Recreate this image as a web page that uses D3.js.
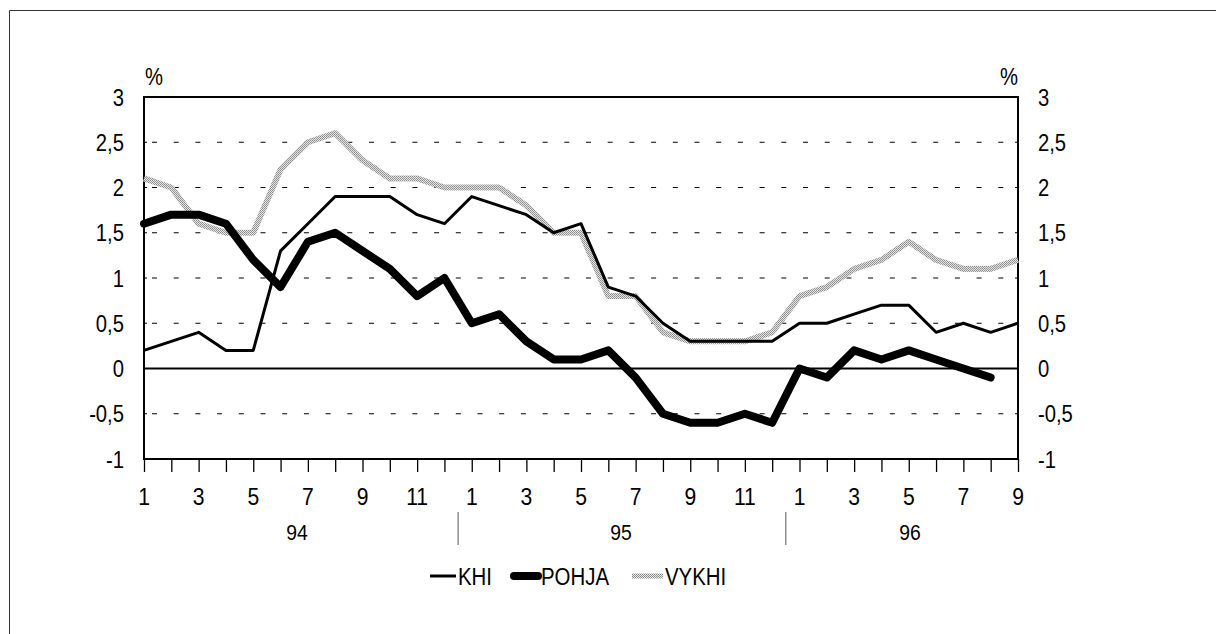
<!DOCTYPE html>
<html>
<head>
<meta charset="utf-8">
<script src="https://cdn.jsdelivr.net/npm/d3@7"></script>
<style>
  html, body { margin: 0; padding: 0; background: #fff; }
  svg { display: block; }
  text { font-family: "Liberation Sans", Arial, Helvetica, sans-serif; fill: #000; }
</style>
</head>
<body>
<svg id="chart" width="1216" height="634"></svg>
<script>
// ---- data ----
const years = ["94", "95", "96"];
const monthsPerYear = [12, 12, 9];
const months = [];
years.forEach((y, i) => { for (let m = 1; m <= monthsPerYear[i]; m++) months.push(y + "-" + m); });

const khi = [0.2, 0.3, 0.4, 0.2, 0.2, 1.3, 1.6, 1.9, 1.9, 1.9, 1.7, 1.6,
             1.9, 1.8, 1.7, 1.5, 1.6, 0.9, 0.8, 0.5, 0.3, 0.3, 0.3, 0.3,
             0.5, 0.5, 0.6, 0.7, 0.7, 0.4, 0.5, 0.4, 0.5];
const pohja = [1.6, 1.7, 1.7, 1.6, 1.2, 0.9, 1.4, 1.5, 1.3, 1.1, 0.8, 1.0,
               0.5, 0.6, 0.3, 0.1, 0.1, 0.2, -0.1, -0.5, -0.6, -0.6, -0.5, -0.6,
               0.0, -0.1, 0.2, 0.1, 0.2, 0.1, 0.0, -0.1];
const vykhi = [2.1, 2.0, 1.6, 1.5, 1.5, 2.2, 2.5, 2.6, 2.3, 2.1, 2.1, 2.0,
               2.0, 2.0, 1.8, 1.5, 1.5, 0.8, 0.8, 0.4, 0.3, 0.3, 0.3, 0.4,
               0.8, 0.9, 1.1, 1.2, 1.4, 1.2, 1.1, 1.1, 1.2];
const yTicks = [-1, -0.5, 0, 0.5, 1, 1.5, 2, 2.5, 3];
const xTickLabels = ["1", "3", "5", "7", "9", "11"];
const seriesNames = ["KHI", "POHJA", "VYKHI"];

// ---- layout ----
const svg = d3.select("#chart");
const L = 144, R = 1018, T = 97, B = 459;
const x = d3.scalePoint().domain(months).range([L, R]);
const y = d3.scaleLinear().domain([-1, 3]).range([B, T]);
const fmt = v => String(v).replace(".", ",");
const SX = 0.88;

// pattern for halftone grey
const defs = svg.append("defs");
const pat = defs.append("pattern").attr("id", "halftone").attr("patternUnits", "userSpaceOnUse")
  .attr("width", 2).attr("height", 2);
pat.append("rect").attr("width", 2).attr("height", 2).attr("fill", "#e4e4e4");
pat.append("rect").attr("width", 1).attr("height", 1).attr("fill", "#8a8a8a");
pat.append("rect").attr("x", 1).attr("y", 1).attr("width", 1).attr("height", 1).attr("fill", "#9a9a9a");

// outer frame (left + top)
svg.append("path").attr("d", "M9.5,634 V10.5 H1216").attr("fill", "none").attr("stroke", "#333").attr("stroke-width", 1);

// gridlines (dashed)
svg.append("g").selectAll("line").data(yTicks.filter(v => v !== 0 && v !== 3 && v !== -1)).join("line")
  .attr("x1", L + 8).attr("x2", R - 8)
  .attr("y1", d => y(d)).attr("y2", d => y(d))
  .attr("stroke", "#000").attr("stroke-width", 1.2).attr("stroke-dasharray", "5,16.7");

// zero line
svg.append("line").attr("x1", L).attr("x2", R).attr("y1", y(0)).attr("y2", y(0))
  .attr("stroke", "#000").attr("stroke-width", 2);

// plot frame
svg.append("rect").attr("x", L).attr("y", T).attr("width", R - L).attr("height", B - T)
  .attr("fill", "none").attr("stroke", "#000").attr("stroke-width", 2);

// x axis ticks below
const xAxis = d3.axisBottom(x).tickSize(13).tickFormat("");
const gx = svg.append("g").attr("transform", `translate(0,${B})`).call(xAxis);
gx.select(".domain").remove();
gx.selectAll(".tick line").attr("stroke", "#000").attr("stroke-width", 1.3);

// x tick labels
const labelMonths = months.filter(m => xTickLabels.includes(m.split("-")[1]) || m === "96-9");
svg.append("g").selectAll("text").data(labelMonths).join("text")
  .attr("transform", d => `translate(${x(d)},505) scale(${SX},1)`)
  .attr("text-anchor", "middle").attr("font-size", 24)
  .text(d => d.split("-")[1]);

// year labels and separators
const yearStart = [0, 12, 24], yearEnd = [11, 23, 32];
const yearCenter = [297, 621, 910];
svg.append("g").selectAll("text").data(years).join("text")
  .attr("transform", (d, i) => `translate(${yearCenter[i]},540) scale(${SX},1)`)
  .attr("text-anchor", "middle").attr("font-size", 22).text(d => d);
svg.append("g").selectAll("line").data([1, 2]).join("line")
  .attr("x1", i => (x(months[yearEnd[i - 1]]) + x(months[yearStart[i]])) / 2)
  .attr("x2", i => (x(months[yearEnd[i - 1]]) + x(months[yearStart[i]])) / 2)
  .attr("y1", 512).attr("y2", 545).attr("stroke", "#555").attr("stroke-width", 1);

// y axes labels
const gyl = svg.append("g").attr("transform", `translate(${L},0)`)
  .call(d3.axisLeft(y).tickValues(yTicks).tickSize(0).tickPadding(0).tickFormat(fmt));
gyl.select(".domain").remove();
gyl.selectAll(".tick text").attr("x", null).attr("dy", null)
  .attr("transform", `translate(-20,8) scale(${SX},1)`)
  .attr("text-anchor", "end").attr("font-size", 23).attr("font-family", "Liberation Sans, Arial, sans-serif");
const gyr = svg.append("g").attr("transform", `translate(${R},0)`)
  .call(d3.axisRight(y).tickValues(yTicks).tickSize(0).tickPadding(0).tickFormat(fmt));
gyr.select(".domain").remove();
gyr.selectAll(".tick text").attr("x", null).attr("dy", null)
  .attr("transform", `translate(20,8) scale(${SX},1)`)
  .attr("text-anchor", "start").attr("font-size", 23).attr("font-family", "Liberation Sans, Arial, sans-serif");

// small inner ticks on y axes
svg.append("g").selectAll("line").data(yTicks).join("line")
  .attr("x1", L).attr("x2", L + 3).attr("y1", d => y(d)).attr("y2", d => y(d)).attr("stroke", "#000");
svg.append("g").selectAll("line").data(yTicks).join("line")
  .attr("x1", R - 3).attr("x2", R).attr("y1", d => y(d)).attr("y2", d => y(d)).attr("stroke", "#000");

// % labels
svg.append("text").attr("transform", `translate(${L + 1},85) scale(${SX},1)`).attr("font-size", 23).text("%");
svg.append("text").attr("transform", `translate(${R},85) scale(${SX},1)`).attr("text-anchor", "end").attr("font-size", 23).text("%");

// lines
const line = d3.line().x((d, i) => x(months[i])).y(d => y(d));
svg.append("path").datum(vykhi).attr("d", line).attr("fill", "none")
  .attr("stroke", "url(#halftone)").attr("stroke-width", 6).attr("stroke-linejoin", "round");
svg.append("path").datum(khi).attr("d", line).attr("fill", "none")
  .attr("stroke", "#000").attr("stroke-width", 3).attr("stroke-linejoin", "round");
svg.append("path").datum(pohja).attr("d", line).attr("fill", "none")
  .attr("stroke", "#000").attr("stroke-width", 8).attr("stroke-linejoin", "round").attr("stroke-linecap", "round");

// legend
const legY = 576;
const leg = [
  { name: seriesNames[0], x1: 430, x2: 456, tx: 458, w: 3, stroke: "#000", cap: "butt" },
  { name: seriesNames[1], x1: 514, x2: 538, tx: 541, w: 8, stroke: "#000", cap: "round" },
  { name: seriesNames[2], x1: 632, x2: 663, tx: 665, w: 5, stroke: "url(#halftone)", cap: "butt" }
];
const lg = svg.append("g");
lg.selectAll("line").data(leg).join("line")
  .attr("x1", d => d.x1).attr("x2", d => d.x2).attr("y1", legY).attr("y2", legY)
  .attr("stroke", d => d.stroke).attr("stroke-width", d => d.w).attr("stroke-linecap", d => d.cap);
lg.selectAll("text").data(leg).join("text")
  .attr("transform", d => `translate(${d.tx},585) scale(0.85,1)`)
  .attr("font-size", 24).text(d => d.name);
</script>
</body>
</html>
